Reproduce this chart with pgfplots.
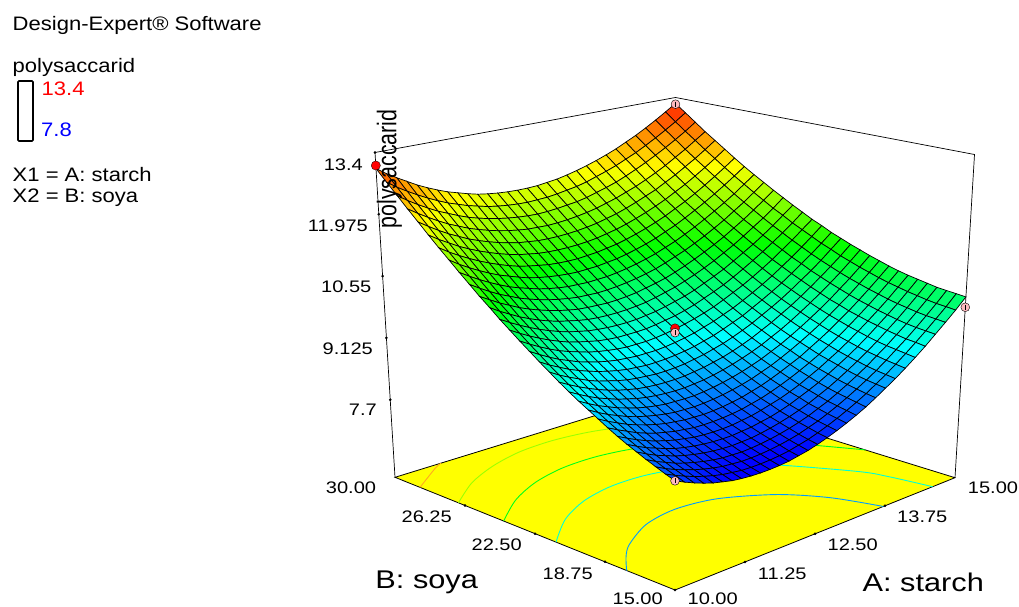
\documentclass[border=0pt]{standalone}
\usepackage{pgfplots}
\usepackage{pgfplotstable}
\usepackage{fontspec}
\pgfplotsset{compat=1.18}
\setmainfont{Liberation Sans}
\newfontfamily\tickf[FakeStretch=1.2]{Liberation Sans}
\newfontfamily\legf[FakeStretch=1.13]{Liberation Sans}
\newfontfamily\zf[FakeStretch=0.79]{Liberation Sans}
\newcommand\tkl{\fontsize{16.7}{18}\tickf}
\newcommand\lgt{\fontsize{19.5}{22}\legf}
\newcommand\axl{\fontsize{25.6}{28}\tickf}
\definecolor{floorc}{RGB}{255,255,0}
\definecolor{lvA}{RGB}{0,156,255}
\definecolor{lvB}{RGB}{0,255,215}
\definecolor{lvC}{RGB}{0,255,25}
\definecolor{lvD}{RGB}{155,255,0}
\definecolor{lvE}{RGB}{255,170,30}
\definecolor{pinkpt}{RGB}{255,185,190}
\newcommand\NN{31}
\newcommand\PXT{prx((\thisrow{A}-10)/5,(\thisrow{B}-15)/15,(\thisrow{z}-5.91)/7.49)}
\newcommand\PYT{pry((\thisrow{A}-10)/5,(\thisrow{B}-15)/15,(\thisrow{z}-5.91)/7.49)}
\newcommand\PXF{prx((\thisrow{A}-10)/5,(\thisrow{B}-15)/15,0)}
\newcommand\PYF{pry((\thisrow{A}-10)/5,(\thisrow{B}-15)/15,0)}
\newcommand\UI{(1-mod(\coordindex,\NN)/(\NN-1))}
\newcommand\VI{(1-floor((\coordindex+0.5)/\NN)/(\NN-1))}
\begin{document}
\begin{tikzpicture}[declare function={
 prx(\p,\q,\r)=675+280*\p-280*\q+\r*(19.5*\p-20*\q+\p*\q);
 pry(\p,\q,\r)=590-112.3*\p-112.7*\q+26*\p*\q+\r*(-354+30.8*\p+29.2*\q+0.5*\p*\q);
}]
\path[use as bounding box] (0,0) rectangle (1019pt,607pt);
\begin{axis}[hide axis, scale only axis, width=1019pt, height=607pt,
  xmin=0, xmax=1019, ymin=0, ymax=607, y dir=reverse, clip=false,
  colormap={de}{rgb255=(0,0,255) rgb255=(0,255,255) rgb255=(0,255,0) rgb255=(255,255,0) rgb255=(255,0,0)},
  point meta min=7.8, point meta max=13.4]
% floor
\addplot[fill=floorc, draw=black, line width=0.8pt] table[x expr=\PXF, y expr=\PYF]{
A B
10 15
15 15
15 30
10 30
10 15
};
% contours on the floor
\addplot[lvA, line width=0.9pt, smooth] table[x expr=\PXF, y expr=\PYF]{
A B
10 17.59
10.3125 18.56
10.625 19.32
11.25 20.295
11.875 20.63
12.5 20.27
13.125 18.93
13.5 17.17
13.72 15
};
\addplot[lvB, line width=0.9pt, smooth] table[x expr=\PXF, y expr=\PYF]{
A B
10 21.375
10.625 22.755
11.25 23.625
11.875 24.015
12.5 23.92
13.125 23.23
13.75 21.71
14.375 18.405
14.5 17.08
14.6 15
};
\addplot[lvC, line width=0.9pt, smooth] table[x expr=\PXF, y expr=\PYF]{
A B
10 24.18
10.625 25.41
11.25 26.23
11.875 26.65
12.5 26.66
13.125 26.23
13.75 25.22
14.375 23.4
15 19.81
};
\addplot[lvD, line width=0.9pt, smooth] table[x expr=\PXF, y expr=\PYF]{
A B
10 26.6
10.625 27.76
11.25 28.52
11.875 28.97
12.5 29.05
13.125 28.76
13.75 28.01
14.375 26.71
15 24.52
};
\addplot[lvE, line width=0.9pt, smooth] table[x expr=\PXF, y expr=\PYF]{
A B
10 28.66
10.625 29.73
10.82 30
};
% box
\addplot[black, line width=0.7pt] table[x expr=\PXT, y expr=\PYT]{
A B z
10 30 5.91
10 30 13.4
15 30 13.4
15 15 13.4
15 15 5.91
};
% ticks
\addplot[only marks, mark=*, mark size=1.1pt, black] table[x expr=\PXT, y expr=\PYT]{
A B z
10 30 7.7
10 30 9.125
10 30 10.55
10 30 11.975
10 30 13.4
11.25 15 5.91
12.5 15 5.91
13.75 15 5.91
10 18.75 5.91
10 22.5 5.91
10 26.25 5.91
10 15 5.91
};
% surface: 31 x 31 grid, A from 15 to 10 within each row, B from 30 to 15 row by row
\addplot[surf, shader=faceted, faceted color=black, line width=0.7pt, mesh/cols=\NN, point meta=explicit]
 table[x expr={prx(\UI,\VI,(\thisrow{z}-5.91)/7.49)}, y expr={pry(\UI,\VI,(\thisrow{z}-5.91)/7.49)}, meta=z]{
z
13.25
13.08
12.92
12.77
12.63
12.51
12.39
12.29
12.20
12.12
12.05
11.99
11.94
11.91
11.88
11.87
11.87
11.88
11.90
11.93
11.97
12.03
12.10
12.17
12.26
12.36
12.47
12.60
12.73
12.87
13.03
13.06
12.88
12.72
12.57
12.43
12.30
12.19
12.08
11.99
11.91
11.83
11.77
11.73
11.69
11.66
11.65
11.64
11.65
11.67
11.70
11.74
11.80
11.86
11.94
12.02
12.12
12.23
12.35
12.48
12.62
12.78
12.87
12.69
12.53
12.38
12.24
12.11
11.99
11.88
11.78
11.70
11.63
11.56
11.51
11.48
11.45
11.43
11.42
11.43
11.45
11.48
11.52
11.57
11.63
11.70
11.79
11.89
11.99
12.11
12.24
12.38
12.54
12.68
12.51
12.34
12.19
12.04
11.91
11.79
11.68
11.59
11.50
11.43
11.36
11.31
11.27
11.24
11.22
11.21
11.22
11.23
11.26
11.30
11.35
11.41
11.48
11.56
11.66
11.76
11.88
12.01
12.15
12.30
12.51
12.33
12.16
12.01
11.86
11.73
11.60
11.50
11.40
11.31
11.23
11.17
11.11
11.07
11.04
11.02
11.01
11.01
11.02
11.05
11.08
11.13
11.19
11.26
11.34
11.43
11.54
11.65
11.78
11.92
12.07
12.34
12.16
11.99
11.83
11.68
11.55
11.42
11.31
11.21
11.12
11.04
10.97
10.92
10.87
10.84
10.82
10.81
10.81
10.82
10.84
10.88
10.92
10.98
11.05
11.13
11.22
11.32
11.43
11.56
11.69
11.84
12.17
11.99
11.82
11.66
11.51
11.37
11.25
11.13
11.03
10.94
10.86
10.79
10.73
10.69
10.65
10.63
10.61
10.61
10.62
10.64
10.68
10.72
10.77
10.84
10.92
11.01
11.11
11.22
11.34
11.47
11.62
12.01
11.83
11.66
11.50
11.35
11.21
11.08
10.96
10.86
10.76
10.68
10.61
10.55
10.50
10.47
10.44
10.43
10.42
10.43
10.45
10.48
10.52
10.57
10.64
10.72
10.80
10.90
11.01
11.13
11.26
11.41
11.86
11.68
11.50
11.34
11.19
11.05
10.92
10.80
10.69
10.60
10.51
10.44
10.38
10.33
10.29
10.26
10.25
10.24
10.25
10.26
10.29
10.33
10.38
10.45
10.52
10.60
10.70
10.81
10.93
11.06
11.20
11.72
11.53
11.35
11.19
11.03
10.89
10.76
10.64
10.53
10.44
10.35
10.27
10.21
10.16
10.12
10.09
10.07
10.06
10.07
10.08
10.11
10.15
10.20
10.26
10.33
10.41
10.51
10.61
10.73
10.86
11.00
11.58
11.39
11.21
11.04
10.89
10.74
10.61
10.49
10.38
10.28
10.19
10.11
10.05
10.00
9.95
9.92
9.90
9.89
9.90
9.91
9.93
9.97
10.02
10.08
10.15
10.23
10.32
10.43
10.54
10.67
10.80
11.45
11.25
11.07
10.91
10.75
10.60
10.47
10.34
10.23
10.13
10.04
9.96
9.90
9.84
9.79
9.76
9.74
9.73
9.73
9.74
9.76
9.80
9.85
9.90
9.97
10.05
10.14
10.24
10.36
10.48
10.62
11.32
11.13
10.94
10.77
10.61
10.47
10.33
10.20
10.09
9.99
9.89
9.81
9.75
9.69
9.64
9.61
9.58
9.57
9.57
9.58
9.60
9.63
9.68
9.73
9.80
9.88
9.97
10.07
10.18
10.30
10.43
11.20
11.00
10.82
10.65
10.49
10.34
10.20
10.07
9.95
9.85
9.76
9.67
9.60
9.54
9.50
9.46
9.43
9.42
9.42
9.42
9.44
9.47
9.52
9.57
9.63
9.71
9.80
9.90
10.01
10.13
10.26
11.08
10.89
10.70
10.53
10.36
10.21
10.07
9.94
9.83
9.72
9.62
9.54
9.47
9.41
9.36
9.32
9.29
9.27
9.27
9.27
9.29
9.32
9.36
9.41
9.48
9.55
9.63
9.73
9.84
9.96
10.09
10.98
10.78
10.59
10.41
10.25
10.09
9.95
9.82
9.70
9.59
9.50
9.41
9.34
9.27
9.22
9.18
9.15
9.13
9.13
9.13
9.15
9.17
9.21
9.26
9.32
9.39
9.48
9.57
9.68
9.80
9.93
10.87
10.67
10.48
10.31
10.14
9.98
9.84
9.71
9.59
9.47
9.38
9.29
9.21
9.15
9.09
9.05
9.02
9.00
8.99
8.99
9.01
9.03
9.07
9.12
9.18
9.25
9.33
9.42
9.53
9.64
9.77
10.78
10.58
10.38
10.20
10.04
9.88
9.73
9.60
9.48
9.36
9.26
9.17
9.09
9.03
8.97
8.93
8.89
8.87
8.86
8.86
8.88
8.90
8.93
8.98
9.04
9.10
9.18
9.28
9.38
9.49
9.62
10.69
10.48
10.29
10.11
9.94
9.78
9.63
9.50
9.37
9.26
9.15
9.06
8.98
8.91
8.86
8.81
8.78
8.75
8.74
8.74
8.75
8.77
8.80
8.85
8.90
8.97
9.05
9.14
9.24
9.35
9.47
10.61
10.40
10.20
10.02
9.85
9.69
9.54
9.40
9.27
9.16
9.05
8.96
8.88
8.81
8.75
8.70
8.66
8.64
8.62
8.62
8.63
8.65
8.68
8.72
8.78
8.84
8.92
9.00
9.10
9.21
9.33
10.53
10.32
10.12
9.94
9.76
9.60
9.45
9.31
9.18
9.06
8.96
8.86
8.78
8.71
8.65
8.60
8.56
8.53
8.51
8.51
8.52
8.53
8.56
8.60
8.65
8.72
8.79
8.88
8.97
9.08
9.20
10.46
10.25
10.05
9.86
9.69
9.52
9.37
9.23
9.10
8.98
8.87
8.77
8.69
8.61
8.55
8.50
8.46
8.43
8.41
8.40
8.41
8.42
8.45
8.49
8.54
8.60
8.67
8.76
8.85
8.96
9.08
10.39
10.18
9.98
9.79
9.61
9.45
9.29
9.15
9.02
8.89
8.79
8.69
8.60
8.52
8.46
8.40
8.36
8.33
8.31
8.30
8.31
8.32
8.35
8.38
8.43
8.49
8.56
8.64
8.74
8.84
8.96
10.33
10.12
9.92
9.73
9.55
9.38
9.22
9.08
8.94
8.82
8.71
8.61
8.52
8.44
8.37
8.32
8.27
8.24
8.22
8.21
8.21
8.22
8.25
8.28
8.33
8.38
8.45
8.53
8.63
8.73
8.84
10.28
10.07
9.86
9.67
9.49
9.32
9.16
9.01
8.88
8.75
8.64
8.53
8.44
8.36
8.30
8.24
8.19
8.16
8.13
8.12
8.12
8.13
8.15
8.19
8.23
8.29
8.35
8.43
8.52
8.62
8.73
10.24
10.02
9.81
9.62
9.44
9.26
9.10
8.95
8.82
8.69
8.57
8.47
8.38
8.29
8.22
8.16
8.12
8.08
8.06
8.04
8.04
8.05
8.07
8.10
8.14
8.19
8.26
8.34
8.42
8.52
8.63
10.20
9.98
9.77
9.57
9.39
9.21
9.05
8.90
8.76
8.63
8.51
8.41
8.31
8.23
8.16
8.10
8.05
8.01
7.98
7.97
7.96
7.97
7.99
8.02
8.06
8.11
8.17
8.25
8.33
8.43
8.54
10.16
9.94
9.73
9.53
9.35
9.17
9.01
8.85
8.71
8.58
8.46
8.35
8.26
8.17
8.10
8.04
7.99
7.95
7.92
7.90
7.89
7.90
7.91
7.94
7.98
8.03
8.09
8.16
8.25
8.34
8.45
10.14
9.91
9.70
9.50
9.31
9.14
8.97
8.81
8.67
8.54
8.42
8.31
8.21
8.12
8.05
7.98
7.93
7.89
7.86
7.84
7.83
7.83
7.85
7.87
7.91
7.96
8.02
8.09
8.17
8.26
8.37
10.12
9.89
9.68
9.48
9.29
9.11
8.94
8.78
8.64
8.50
8.38
8.27
8.17
8.08
8.00
7.93
7.88
7.83
7.80
7.78
7.77
7.77
7.78
7.81
7.84
7.89
7.95
8.02
8.10
8.19
8.29
10.10
9.87
9.66
9.46
9.26
9.08
8.91
8.75
8.61
8.47
8.34
8.23
8.13
8.04
7.96
7.89
7.83
7.79
7.75
7.73
7.72
7.72
7.73
7.75
7.78
7.83
7.88
7.95
8.03
8.12
8.22
};
% design points
\addplot[only marks, mark=*, mark size=4.6pt, mark options={fill=red, draw=black, line width=0.3pt}] table[x expr=\PXT, y expr=\PYT]{
A B z
10 30 13.1
12.5 22.5 9.51
};
\addplot[only marks, mark=*, mark size=4.4pt, mark options={fill=pinkpt, draw=black, line width=0.4pt}] table[x expr=\PXT, y expr=\PYT]{
A B z
10 15 8.22
15 15 9.86
15 30 13.23
12.5 22.5 9.41
};
\addplot[only marks, mark=|, mark size=2.5pt, mark options={draw=black, line width=0.4pt}] table[x expr=\PXT, y expr=\PYT]{
A B z
10 15 8.22
15 15 9.86
15 30 13.23
12.5 22.5 9.41
};
% z tick labels
\node[anchor=east, inner sep=0] at (axis cs:363,165) {\tkl 13.4};
\node[anchor=east, inner sep=0] at (axis cs:368,226) {\tkl 11.975};
\node[anchor=east, inner sep=0] at (axis cs:371.5,287) {\tkl 10.55};
\node[anchor=east, inner sep=0] at (axis cs:373,349) {\tkl 9.125};
\node[anchor=east, inner sep=0] at (axis cs:377,410) {\tkl 7.7};
% floor tick labels
\node[inner sep=0] at (axis cs:351,488) {\tkl 30.00};
\node[inner sep=0] at (axis cs:426.7,516.7) {\tkl 26.25};
\node[inner sep=0] at (axis cs:496.7,544.3) {\tkl 22.50};
\node[inner sep=0] at (axis cs:567.7,573.3) {\tkl 18.75};
\node[inner sep=0] at (axis cs:637.7,599) {\tkl 15.00};
\node[inner sep=0] at (axis cs:712.7,599) {\tkl 10.00};
\node[inner sep=0] at (axis cs:782.3,573.3) {\tkl 11.25};
\node[inner sep=0] at (axis cs:852.7,544.3) {\tkl 12.50};
\node[inner sep=0] at (axis cs:922.3,516.7) {\tkl 13.75};
\node[inner sep=0] at (axis cs:993,488) {\tkl 15.00};
% axis titles
\node[inner sep=0] at (axis cs:426.7,582.3) {\axl B: soya};
\node[inner sep=0] at (axis cs:923.3,582.3) {\axl A: starch};
\node[inner sep=0, rotate=90] at (axis cs:389.5,169) {\fontsize{27}{30}\zf polysaccarid};
% legend text
\node[anchor=base west, inner sep=0] at (axis cs:12.5,30.7) {\lgt Design-Expert® Software};
\node[anchor=base west, inner sep=0] at (axis cs:12.5,72.3) {\lgt polysaccarid};
\node[anchor=base west, inner sep=0, text=red] at (axis cs:41.5,95.7) {\lgt 13.4};
\node[anchor=base west, inner sep=0, text=blue] at (axis cs:41,136.7) {\lgt 7.8};
\node[anchor=base west, inner sep=0] at (axis cs:12.5,181.7) {\lgt X1 = A: starch};
\node[anchor=base west, inner sep=0] at (axis cs:12.5,202.7) {\lgt X2 = B: soya};
\draw[black, line width=1.6pt, rounded corners=1pt, fill=white] (axis cs:18,81) rectangle (axis cs:33,141);
\end{axis}
\end{tikzpicture}
\end{document}
